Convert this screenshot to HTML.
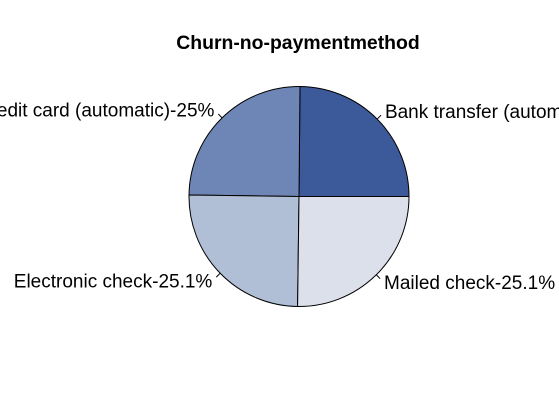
<!DOCTYPE html>
<html><head><meta charset="utf-8"><style>
html,body{margin:0;padding:0;background:#fff;}
svg{display:block;font-family:"Liberation Sans",Arial,sans-serif;}
</style></head><body>
<svg id="chart" width="559" height="412" viewBox="0 0 559 412">
<text x="298" y="49" text-anchor="middle" font-size="19.4" font-weight="bold">Churn-no-paymentmethod</text>
<g id="slices"></g>
</svg>
<script>
const categories = ["Bank transfer (automatic)", "Credit card (automatic)", "Electronic check", "Mailed check"];
const values = [1286, 1290, 1294, 1304];
const pctLabels = ["24.9%", "25%", "25.1%", "25.1%"];
const colors = ["#3c5a99", "#6e86b6", "#b0bed6", "#dbe0eb"];
const cx = 299, cy = 196.5, r = 110;
const g = document.getElementById('slices');
const ns = "http://www.w3.org/2000/svg";
const total = values.reduce((a,b)=>a+b,0);
let a0 = 0;
function pt(a, rr){ return [cx + rr*Math.cos(a), cy - rr*Math.sin(a)]; }
values.forEach((v,i)=>{
  const a1 = a0 + v/total*2*Math.PI;
  const p0 = pt(a0,r), p1 = pt(a1,r);
  const large = (a1-a0) > Math.PI ? 1 : 0;
  const path = document.createElementNS(ns,'path');
  path.setAttribute('d', `M${cx},${cy} L${p0[0]},${p0[1]} A${r},${r} 0 ${large} 0 ${p1[0]},${p1[1]} Z`);
  path.setAttribute('fill', colors[i]);
  path.setAttribute('stroke', '#000');
  path.setAttribute('stroke-width', '1');
  
  
  g.appendChild(path);
  const am = (a0+a1)/2;
  const t0 = pt(am, r), t1 = pt(am, r*1.05), lp = pt(am, r*1.1);
  const line = document.createElementNS(ns,'line');
  line.setAttribute('x1', t0[0]); line.setAttribute('y1', t0[1]);
  line.setAttribute('x2', t1[0]); line.setAttribute('y2', t1[1]);
  line.setAttribute('stroke', '#000');
  
  
  g.appendChild(line);
  const txt = document.createElementNS(ns,'text');
  txt.setAttribute('x', lp[0]);
  txt.setAttribute('y', lp[1] + 6.5);
  txt.setAttribute('font-size', '19');
  txt.setAttribute('text-anchor', Math.cos(am) > 0 ? 'start' : 'end');
  txt.textContent = categories[i] + '-' + pctLabels[i];
  
  
  g.appendChild(txt);
  a0 = a1;
});
</script>
</body></html>
